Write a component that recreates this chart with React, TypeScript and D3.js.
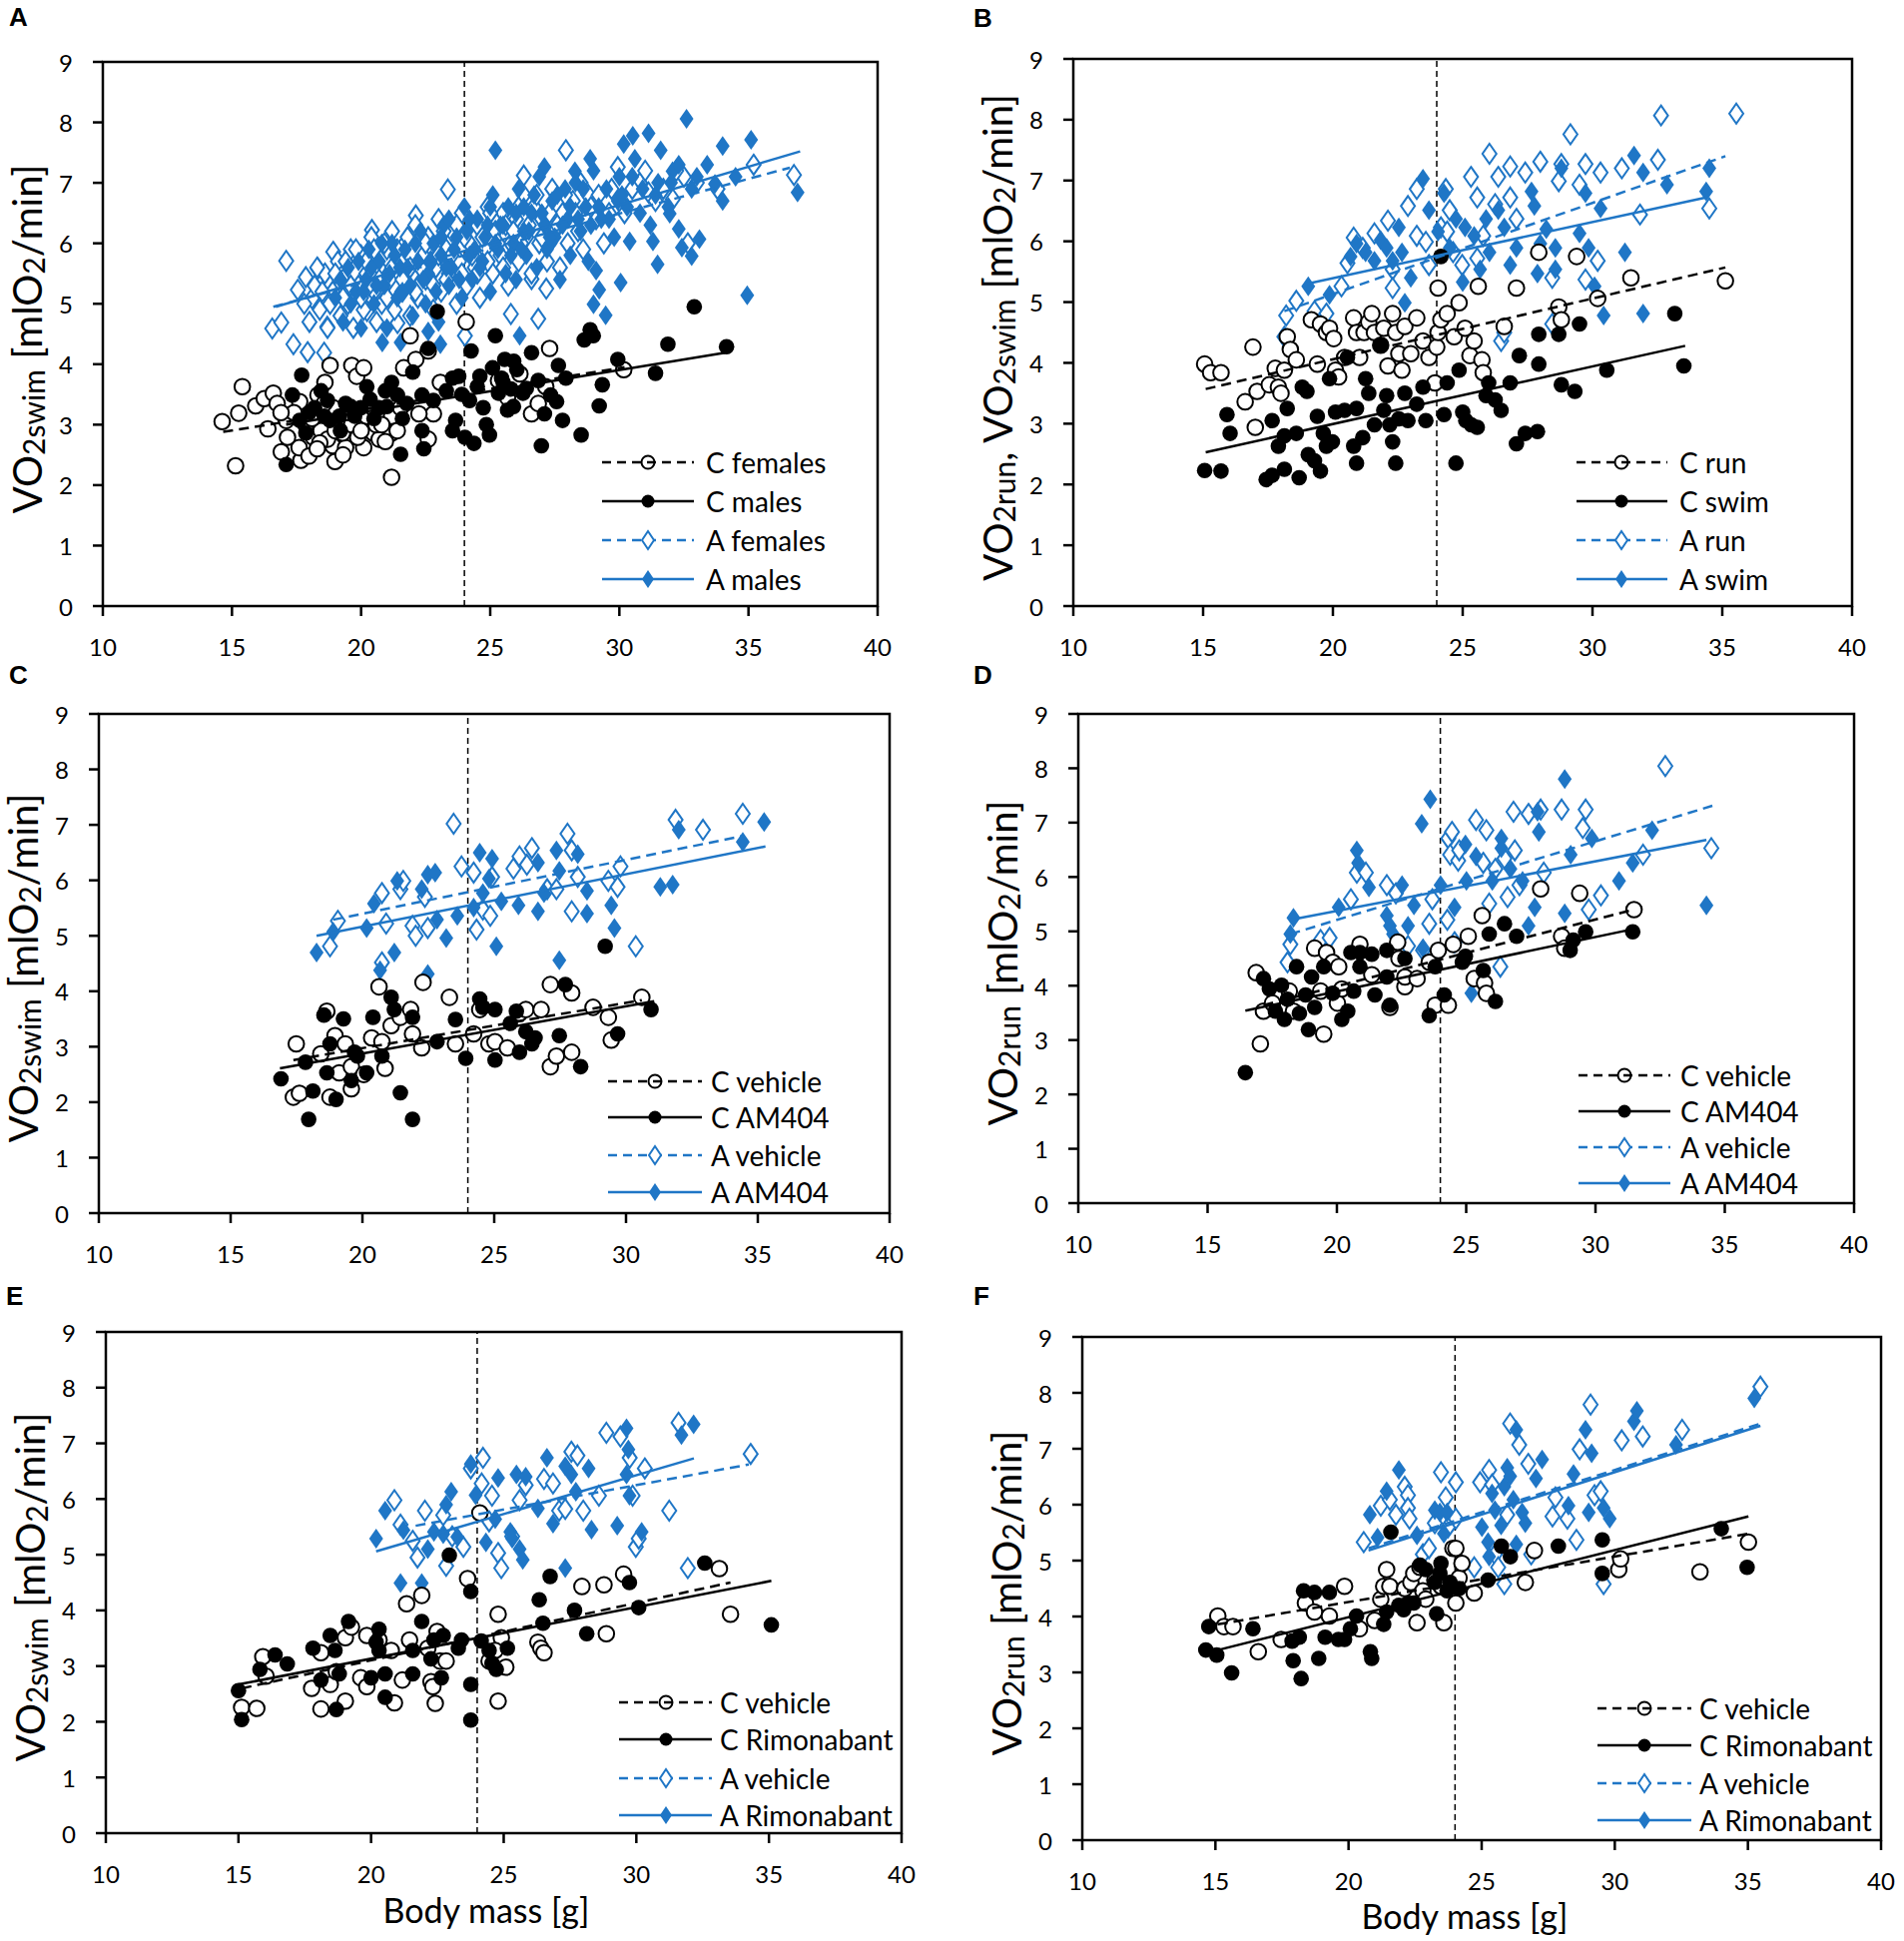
import React from "react";
import * as d3 from "d3";

type Pt = [number, number];

const BLUE = "#1f76c6";
const FONT = "Lato, 'Open Sans', sans-serif";

// ---------- panel A: swim, by sex ----------
const aCFemales: Pt[] = [
  [14.62, 3.05], [15.14, 2.32], [15.26, 3.19], [15.4, 3.63], [15.92, 3.31], [16.25, 3.43], [16.39, 2.93],
  [16.6, 3.52], [16.75, 3.35], [16.91, 2.55], [17.1, 3.07], [17.62, 3.38], [17.67, 2.41], [17.6, 2.62],
  [17.98, 2.48], [18.33, 3.49], [18.6, 3.7], [18.8, 3.98], [18.99, 2.39], [18.9, 2.65], [19.4, 2.62],
  [19.64, 3.98], [19.83, 3.8], [20.1, 3.94], [20.1, 2.62], [20.47, 2.86], [20.7, 2.76], [21.18, 2.13],
  [21.18, 2.86], [21.65, 3.94], [21.9, 4.47], [22.12, 4.08], [22.6, 4.22], [22.8, 3.18], [23.07, 3.7],
  [24.07, 4.7], [26.15, 3.84], [26.6, 3.18], [27.3, 4.26], [30.17, 3.91], [17.86, 3.0], [18.15, 2.79],
  [18.45, 2.9], [18.7, 2.76], [19.16, 3.07], [19.28, 2.86], [19.64, 3.0], [19.87, 2.79], [20.22, 3.14],
  [20.58, 3.0], [20.94, 2.72], [18.92, 3.28], [18.57, 3.35], [17.15, 2.79], [21.18, 3.14], [21.53, 3.28],
  [22.24, 3.18], [22.6, 2.76], [25.67, 3.45], [26.86, 3.35], [25.32, 3.73], [27.15, 3.63],
  [18.1, 3.1], [18.4, 2.7], [19.0, 2.9], [19.5, 3.2], [20.0, 2.9], [20.4, 3.3], [20.8, 3.0], [21.4, 2.9],
  [17.4, 3.2], [16.9, 3.2], [19.3, 2.5], [18.3, 2.6],
];
const aCMales: Pt[] = [
  [17.1, 2.34], [17.7, 3.82], [17.34, 3.49], [17.62, 3.07], [17.86, 2.86], [18.2, 3.28], [18.45, 3.56],
  [18.57, 3.14], [18.8, 3.07], [19.16, 3.14], [19.4, 3.35], [19.75, 3.14], [19.99, 3.28], [20.22, 3.63],
  [20.35, 3.42], [20.7, 3.28], [20.94, 3.56], [21.18, 3.7], [21.41, 3.49], [21.53, 2.51], [21.77, 3.35],
  [22.0, 3.87], [22.36, 2.9], [22.36, 3.49], [22.43, 2.6], [22.95, 4.87], [22.6, 4.26], [23.3, 3.56],
  [23.54, 2.9], [23.54, 3.77], [23.66, 3.07], [23.78, 3.8], [24.02, 2.79], [24.26, 4.22], [24.37, 2.69],
  [24.5, 3.63], [24.73, 3.28], [24.85, 3.0], [24.97, 2.83], [25.09, 3.94], [25.2, 4.47], [25.32, 3.52],
  [25.44, 3.77], [25.56, 4.08], [25.67, 3.24], [25.8, 3.59], [25.91, 4.05], [26.03, 3.91], [26.27, 3.52],
  [26.6, 4.19], [26.86, 3.73], [26.98, 2.65], [27.1, 3.18], [27.34, 3.49], [27.57, 3.38], [27.64, 3.98],
  [27.8, 3.07], [27.93, 3.77], [28.52, 2.83], [28.64, 4.4], [28.87, 4.57], [28.99, 4.47], [29.22, 3.31],
  [29.34, 3.66], [29.94, 4.08], [31.4, 3.85], [31.88, 4.33], [32.9, 4.95], [34.15, 4.29],
  [18.0, 3.2], [18.7, 3.4], [19.2, 2.9], [19.6, 3.3], [20.5, 3.1], [21.0, 3.3], [21.6, 3.1], [22.8, 3.4],
  [23.9, 3.5], [24.6, 3.8], [25.5, 3.7], [26.4, 3.6], [24.2, 3.4], [25.9, 3.3],
];
const aAFemales: Pt[] = [
  [17.1, 5.71], [16.56, 4.59], [16.91, 4.69], [17.38, 4.33], [17.55, 5.23], [17.86, 5.44], [17.93, 4.2],
  [18.1, 5.09], [18.33, 5.58], [18.69, 4.62], [18.92, 5.86], [18.57, 4.19], [20.42, 6.22], [20.23, 4.88],
  [21.41, 4.68], [22.12, 6.46], [23.36, 6.89], [24.02, 4.47], [25.8, 4.83], [26.3, 7.12], [26.6, 5.41],
  [26.86, 4.75], [27.17, 5.25], [27.93, 7.54], [29.94, 7.26], [32.07, 6.73], [32.65, 6.0], [36.76, 7.13],
  [29.22, 6.56], [31.13, 6.84],
  [17.8, 5.0], [18.0, 4.7], [18.2, 5.3], [18.4, 4.9], [18.6, 5.5], [18.7, 4.6], [18.9, 5.2], [19.1, 5.7],
  [19.2, 4.8], [19.3, 5.4], [19.5, 5.0], [19.6, 5.9], [19.7, 4.6], [19.9, 5.3], [20.0, 5.8], [20.1, 4.9],
  [20.2, 5.5], [20.4, 6.1], [20.5, 5.2], [20.6, 4.7], [20.7, 5.6], [20.8, 5.0], [21.0, 5.9], [21.1, 5.4],
  [21.2, 6.2], [21.3, 4.9], [21.5, 5.7], [21.6, 5.2], [21.7, 6.0], [21.9, 4.8], [22.0, 5.5], [22.1, 6.3],
  [22.2, 5.1], [22.4, 5.8], [22.5, 5.4], [22.6, 6.1], [22.8, 4.9], [22.9, 5.6], [23.0, 6.4], [23.1, 5.2],
  [23.3, 5.9], [23.4, 5.5], [23.5, 6.2], [23.7, 5.0], [23.8, 5.7], [23.9, 6.5], [24.1, 5.3], [24.2, 6.0],
  [24.4, 5.6], [24.5, 6.3], [24.6, 5.1], [24.8, 5.9], [24.9, 6.6], [25.1, 5.5], [25.2, 6.2], [25.4, 5.8],
  [25.5, 6.5], [25.7, 5.3], [25.8, 6.0], [26.0, 6.4], [26.1, 5.7], [26.3, 6.8], [26.4, 6.1], [26.6, 5.5],
  [26.7, 6.6], [26.9, 6.0], [27.0, 6.4], [27.2, 5.7], [27.4, 6.9], [27.5, 6.2], [27.7, 5.6], [27.8, 6.5],
  [28.0, 6.0], [28.2, 6.7], [28.4, 6.2], [28.6, 5.9], [28.8, 6.8], [29.1, 6.4], [29.4, 6.0], [29.7, 6.9],
  [30.2, 6.5], [30.8, 7.0], [31.4, 6.7], [32.5, 7.1], [33.8, 6.9], [35.2, 7.3],
  [18.3, 5.6], [18.5, 5.2], [18.8, 5.0], [19.0, 5.5], [19.3, 5.1], [19.4, 5.7], [19.6, 5.3], [19.8, 5.9],
  [20.0, 5.1], [20.2, 5.7], [20.3, 5.3], [20.5, 5.9], [20.7, 5.4], [20.9, 6.0], [21.0, 5.1], [21.2, 5.6],
  [21.4, 5.9], [21.6, 5.4], [21.8, 6.1], [21.9, 5.6], [22.1, 5.2], [22.3, 5.6], [22.5, 6.0], [22.7, 5.7],
  [22.8, 5.3], [23.0, 5.8], [23.2, 6.2], [23.3, 5.4], [23.5, 5.8], [23.7, 6.3], [23.9, 5.5], [24.0, 6.1],
  [24.3, 5.8], [24.5, 5.5], [24.7, 6.1], [24.9, 5.7], [25.0, 6.5], [25.3, 6.0], [25.5, 5.6], [25.6, 6.3],
  [25.9, 6.2], [26.1, 6.6], [26.2, 6.0], [26.5, 6.3], [26.8, 6.8], [27.0, 6.1], [27.3, 6.5], [27.6, 6.3],
  [27.9, 6.8], [28.3, 6.5], [28.5, 7.0], [28.9, 6.6], [29.2, 6.8], [29.6, 6.5], [30.0, 6.7], [30.5, 6.9],
  [31.0, 7.2], [31.7, 6.9], [32.2, 7.2], [33.0, 7.0],
];
const aAMales: Pt[] = [
  [25.2, 7.54], [32.6, 8.06], [35.1, 7.71], [34.95, 5.14], [36.9, 6.84], [31.13, 7.82], [30.52, 7.78],
  [30.17, 7.64], [31.6, 7.54], [34.0, 7.61], [33.7, 6.98], [32.3, 6.24], [32.42, 5.93], [33.1, 6.07],
  [31.48, 5.65], [31.3, 6.03], [30.4, 6.03], [30.05, 5.35], [29.47, 4.81], [29.0, 4.99], [29.22, 5.23],
  [28.87, 7.4], [28.28, 7.19], [27.1, 7.26], [29.1, 5.55], [32.06, 7.19], [32.8, 5.79], [31.95, 6.49],
  [20.82, 4.36], [21.53, 4.36], [22.6, 4.54], [23.07, 4.33], [26.14, 4.47], [27.34, 6.0], [29.94, 6.7],
  [19.0, 5.1], [19.3, 4.7], [19.5, 5.6], [19.8, 5.2], [20.0, 4.6], [20.2, 5.4], [20.3, 5.9], [20.5, 5.0],
  [20.7, 5.7], [20.9, 5.3], [21.0, 4.6], [21.2, 6.0], [21.4, 5.1], [21.5, 5.6], [21.7, 5.9], [21.9, 5.3],
  [22.0, 4.8], [22.2, 5.7], [22.3, 6.2], [22.5, 5.0], [22.6, 5.5], [22.8, 6.0], [23.0, 4.7], [23.1, 5.8],
  [23.2, 6.3], [23.4, 5.3], [23.5, 5.6], [23.7, 6.1], [23.9, 5.1], [24.0, 6.6], [24.2, 5.8], [24.3, 5.4],
  [24.5, 6.4], [24.7, 5.7], [24.8, 6.1], [25.0, 5.2], [25.1, 6.8], [25.3, 5.9], [25.4, 6.3], [25.6, 5.5],
  [25.7, 6.6], [25.9, 6.0], [26.0, 5.4], [26.1, 6.9], [26.3, 6.2], [26.4, 5.8], [26.6, 6.5], [26.8, 5.6],
  [26.9, 7.1], [27.1, 6.3], [27.2, 5.9], [27.4, 6.7], [27.5, 6.1], [27.7, 5.4], [27.9, 6.9], [28.0, 6.4],
  [28.1, 5.8], [28.3, 7.0], [28.5, 6.2], [28.7, 6.6], [28.8, 5.7], [29.0, 7.2], [29.3, 6.4], [29.5, 6.9],
  [29.8, 6.1], [30.0, 7.1], [30.3, 6.6], [30.6, 7.4], [30.9, 6.9], [31.2, 6.3], [31.5, 7.0], [31.9, 6.6],
  [32.3, 7.3], [32.8, 6.9], [33.4, 7.3], [34.0, 6.7], [34.5, 7.1],
  [19.2, 5.4], [19.6, 5.0], [19.9, 5.7], [20.1, 5.2], [20.4, 5.6], [20.6, 5.3], [20.8, 6.0], [21.1, 5.5],
  [21.3, 5.8], [21.6, 5.2], [21.8, 5.6], [22.1, 6.0], [22.4, 5.4], [22.7, 5.7], [22.9, 5.2], [23.1, 6.1],
  [23.3, 5.6], [23.6, 5.9], [23.8, 5.4], [24.1, 6.2], [24.4, 5.9], [24.6, 5.6], [24.9, 6.3], [25.2, 6.0],
  [25.5, 6.3], [25.8, 5.8], [26.0, 6.5], [26.2, 5.9], [26.5, 6.2], [26.7, 6.8], [27.0, 6.5], [27.3, 6.1],
  [27.6, 6.8], [27.8, 6.3], [28.1, 6.6], [28.4, 6.4], [28.6, 6.9], [28.9, 6.3], [29.2, 6.6], [29.6, 6.4],
  [30.1, 6.8], [30.5, 7.1], [30.8, 6.5], [31.4, 6.8], [32.0, 7.0], [33.0, 7.1], [26.3, 6.6], [25.0, 6.6],
  [24.2, 6.4], [23.4, 6.4],
];
const aFits: Pt[][] = [
  [[14.66, 2.88], [30.2, 3.95]],
  [[17.1, 3.0], [34.1, 4.19]],
  [[16.6, 4.95], [36.6, 7.25]],
  [[16.7, 4.95], [37.0, 7.52]],
];

// ---------- panel B: run vs swim ----------
const bCRun: Pt[] = [
  [15.06, 3.98], [15.29, 3.84], [15.69, 3.84], [16.92, 4.26], [16.62, 3.36], [17.01, 2.94], [17.08, 3.53],
  [17.55, 3.64], [17.78, 3.91], [17.9, 3.6], [18.13, 3.88], [18.24, 4.43], [18.36, 4.22], [18.59, 4.05],
  [18.0, 3.5], [19.17, 4.71], [19.4, 3.98], [19.52, 4.64], [19.75, 4.5], [19.87, 4.57], [20.03, 4.4],
  [20.1, 3.88], [20.22, 3.77], [20.45, 4.09], [20.8, 4.74], [20.91, 4.5], [21.03, 4.09], [21.2, 4.5],
  [21.38, 4.67], [21.5, 4.81], [21.6, 4.5], [21.84, 4.29], [21.96, 4.57], [22.12, 3.95], [22.3, 4.81],
  [22.42, 4.5], [22.54, 4.15], [22.66, 3.88], [22.77, 4.6], [23.0, 4.15], [23.23, 4.74], [23.47, 4.36],
  [23.7, 4.09], [23.93, 3.67], [24.0, 4.26], [24.05, 4.5], [24.05, 5.23], [24.16, 4.71], [24.4, 4.81],
  [24.67, 4.43], [24.86, 4.99], [25.09, 4.57], [25.28, 4.12], [25.44, 4.36], [25.6, 5.26], [25.74, 4.05],
  [25.79, 3.84], [26.6, 4.6], [27.07, 5.23], [27.93, 5.82], [28.7, 4.92], [28.8, 4.71], [29.39, 5.75],
  [30.2, 5.06], [31.48, 5.4], [35.12, 5.35],
];
const bCSwim: Pt[] = [
  [15.06, 2.23], [15.69, 2.22], [15.92, 3.15], [16.04, 2.84], [17.43, 2.08], [17.66, 2.15], [17.66, 3.05],
  [17.9, 2.63], [18.13, 2.25], [18.13, 2.8], [18.24, 3.25], [18.59, 2.84], [18.7, 2.11], [18.82, 3.6],
  [19.0, 3.53], [19.05, 2.49], [19.29, 2.39], [19.4, 3.12], [19.52, 2.22], [19.63, 2.84], [19.75, 2.63],
  [19.87, 3.74], [19.98, 2.7], [20.1, 3.19], [20.45, 3.22], [20.56, 4.09], [20.8, 2.63], [20.91, 2.35],
  [20.91, 3.25], [21.15, 2.77], [21.26, 3.74], [21.38, 3.5], [21.6, 2.98], [21.84, 4.29], [21.96, 3.22],
  [22.07, 3.46], [22.19, 2.98], [22.3, 2.7], [22.42, 2.35], [22.54, 3.08], [22.77, 3.5], [22.89, 3.05],
  [23.23, 3.32], [23.47, 3.6], [23.58, 3.05], [24.16, 5.75], [24.28, 3.15], [24.4, 3.67], [24.74, 2.35],
  [24.86, 3.88], [25.0, 3.19], [25.12, 3.05], [25.33, 2.98], [25.56, 2.94], [25.9, 3.46], [26.0, 3.67],
  [26.25, 3.39], [26.48, 3.22], [26.83, 3.67], [27.07, 2.67], [27.18, 4.12], [27.41, 2.84], [27.88, 2.87],
  [27.93, 3.98], [27.93, 4.47], [28.7, 4.47], [28.8, 3.64], [29.32, 3.53], [29.5, 4.64], [30.55, 3.88],
  [33.17, 4.81], [33.52, 3.95],
];
const bARun: Pt[] = [
  [18.2, 4.78], [18.13, 4.43], [18.59, 5.02], [19.29, 4.85], [19.75, 4.81], [20.33, 5.26], [20.56, 5.64],
  [20.8, 6.06], [21.15, 5.89], [21.6, 6.13], [22.12, 6.34], [22.3, 5.54], [22.89, 6.58], [23.23, 6.09],
  [23.58, 5.99], [23.7, 5.61], [24.16, 6.23], [24.35, 6.86], [24.5, 6.51], [24.63, 5.82], [24.98, 5.61],
  [25.32, 7.06], [25.56, 6.72], [25.79, 6.09], [26.03, 7.44], [26.37, 7.06], [26.48, 4.36], [26.6, 4.5],
  [26.83, 6.72], [26.83, 7.23], [27.07, 6.37], [27.41, 7.13], [27.99, 7.31], [28.45, 5.4], [28.45, 4.64],
  [28.7, 6.99], [28.8, 7.27], [29.15, 7.76], [29.5, 6.93], [29.73, 7.27], [29.73, 5.37], [30.2, 5.68],
  [30.31, 7.13], [31.13, 7.2], [31.83, 6.44], [32.52, 7.34], [32.64, 8.07], [34.5, 6.54], [35.54, 8.1],
  [24.4, 6.16], [25.56, 5.72], [26.25, 6.61], [22.3, 5.23], [23.23, 6.86],
];
const bASwim: Pt[] = [
  [19.05, 5.26], [19.87, 5.12], [20.68, 5.75], [20.91, 5.96], [21.26, 5.82], [21.6, 5.68], [21.84, 6.02],
  [22.07, 5.89], [22.3, 5.68], [22.54, 6.23], [22.66, 5.82], [22.77, 4.99], [23.0, 5.4], [23.47, 7.03],
  [23.7, 6.51], [24.05, 6.16], [24.28, 6.79], [24.5, 5.89], [24.74, 6.37], [25.0, 5.33], [25.09, 6.23],
  [25.44, 6.09], [25.67, 5.54], [25.9, 6.37], [26.03, 5.82], [26.37, 6.51], [26.6, 6.23], [26.83, 5.61],
  [27.07, 5.89], [27.65, 6.82], [27.76, 6.58], [27.88, 5.47], [27.99, 5.96], [28.22, 6.2], [28.57, 5.89],
  [28.8, 7.2], [29.5, 6.13], [29.73, 6.79], [29.85, 5.89], [30.08, 5.26], [30.31, 6.54], [30.43, 4.78],
  [31.25, 5.82], [31.6, 7.41], [31.95, 7.13], [31.95, 4.81], [32.87, 6.93], [34.38, 6.82], [34.5, 7.2],
  [28.57, 5.54],
];
const bFits: Pt[][] = [
  [[15.1, 3.57], [35.12, 5.57]],
  [[15.1, 2.53], [33.57, 4.28]],
  [[18.13, 4.85], [35.12, 7.4]],
  [[19.0, 5.3], [34.38, 6.72]],
];

// ---------- panel C: swim, AM404 ----------
const cCVehicle: Pt[] = [
  [17.49, 3.05], [17.38, 2.09], [17.61, 2.16], [18.65, 3.64], [18.42, 2.87], [18.77, 2.09], [18.96, 3.2],
  [19.12, 2.53], [19.35, 3.05], [19.58, 2.24], [19.58, 2.64], [20.05, 2.5], [20.35, 3.16], [20.63, 4.08],
  [20.74, 3.09], [20.86, 2.61], [21.09, 3.38], [21.44, 3.53], [21.83, 3.67], [21.9, 3.23], [22.25, 2.98],
  [22.3, 4.16], [23.3, 3.89], [23.53, 3.05], [24.22, 3.23], [24.45, 3.67], [24.8, 3.05], [25.03, 3.09],
  [25.5, 2.98], [25.96, 3.6], [26.2, 3.67], [26.78, 3.67], [27.13, 2.64], [27.13, 4.12], [27.36, 2.83],
  [27.94, 2.9], [27.94, 3.97], [28.75, 3.71], [29.33, 3.53], [30.6, 3.89], [29.44, 3.12],
];
const cCAm404: Pt[] = [
  [16.91, 2.42], [17.96, 1.69], [17.84, 2.72], [18.12, 2.2], [18.54, 3.57], [18.65, 2.53], [18.77, 3.05],
  [19.0, 2.05], [19.28, 3.5], [19.58, 2.39], [19.7, 2.9], [19.81, 2.83], [20.16, 2.53], [20.4, 3.53],
  [20.74, 2.83], [21.09, 3.89], [21.21, 3.67], [21.44, 2.17], [21.9, 3.53], [21.9, 1.69], [22.83, 3.09],
  [23.53, 3.49], [23.92, 2.79], [24.45, 3.86], [24.57, 3.71], [25.03, 3.67], [25.03, 2.76], [25.61, 3.42],
  [25.84, 3.64], [25.96, 2.9], [26.2, 3.27], [26.43, 3.05], [26.55, 3.16], [27.47, 3.2], [27.7, 4.12],
  [28.28, 2.64], [29.21, 4.81], [29.68, 3.23], [30.95, 3.67],
];
const cAVehicle: Pt[] = [
  [18.77, 4.81], [19.07, 5.27], [20.74, 5.77], [20.74, 4.52], [20.9, 5.22], [21.44, 5.84], [21.9, 5.18],
  [22.02, 5.0], [22.37, 5.7], [22.48, 5.14], [23.46, 7.02], [23.76, 6.25], [24.22, 6.14], [24.33, 5.11],
  [24.57, 5.47], [24.85, 5.36], [24.92, 6.06], [25.73, 6.21], [25.96, 6.43], [26.24, 6.28], [26.43, 6.58],
  [27.01, 5.84], [27.36, 5.84], [27.78, 6.84], [27.94, 6.54], [27.94, 5.44], [28.17, 6.06], [29.33, 5.99],
  [29.68, 5.88], [29.79, 6.25], [30.37, 4.81], [31.88, 7.09], [32.92, 6.91], [34.43, 7.2], [21.55, 5.99],
];
const cAAm404: Pt[] = [
  [18.26, 4.7], [18.89, 5.07], [20.16, 5.14], [20.44, 5.58], [20.67, 4.38], [21.21, 4.7], [21.32, 5.99],
  [22.25, 5.84], [22.48, 4.31], [22.48, 6.1], [22.76, 6.14], [22.83, 5.29], [23.18, 4.96], [23.6, 5.36],
  [24.22, 5.51], [24.45, 6.5], [24.57, 5.77], [24.8, 6.03], [24.92, 6.39], [25.08, 4.81], [25.27, 5.62],
  [25.92, 5.55], [26.66, 6.32], [26.66, 5.44], [26.89, 5.77], [27.36, 6.54], [27.47, 6.17], [27.47, 4.56],
  [28.17, 6.47], [28.52, 5.81], [28.52, 5.4], [29.44, 5.55], [29.56, 5.14], [31.3, 5.88], [31.77, 5.92],
  [32.0, 6.91], [34.43, 6.69], [35.24, 7.05],
];
const cFits: Pt[][] = [
  [[17.38, 2.76], [30.6, 3.84]],
  [[16.87, 2.61], [31.07, 3.82]],
  [[18.89, 5.29], [34.43, 6.8]],
  [[18.26, 5.0], [35.29, 6.61]],
];

// ---------- panel D: run, AM404 ----------
const dCVehicle: Pt[] = [
  [16.88, 4.24], [17.04, 2.93], [17.16, 3.53], [17.51, 3.68], [18.16, 3.9], [18.32, 3.53], [19.14, 4.69],
  [19.37, 3.9], [19.49, 3.11], [19.6, 4.61], [19.84, 4.43], [20.02, 3.68], [20.07, 4.35], [20.19, 3.94],
  [20.89, 4.76], [21.35, 4.2], [22.05, 3.6], [22.35, 4.8], [22.4, 4.5], [22.63, 3.98], [22.63, 4.16],
  [23.1, 4.13], [23.57, 4.43], [23.8, 3.64], [23.92, 4.65], [24.31, 3.64], [24.5, 4.76], [25.08, 4.91],
  [25.31, 4.13], [25.62, 5.29], [25.71, 4.05], [25.78, 3.86], [27.88, 5.78], [28.69, 4.91], [28.81, 4.69],
  [29.39, 5.7], [31.49, 5.4],
];
const dCAm404: Pt[] = [
  [16.46, 2.4], [17.16, 4.13], [17.39, 3.94], [17.62, 3.53], [17.86, 4.01], [17.97, 3.38], [18.09, 3.75],
  [18.44, 4.35], [18.55, 3.49], [18.79, 3.83], [18.9, 3.19], [19.02, 4.16], [19.14, 3.6], [19.49, 4.35],
  [19.84, 3.86], [20.19, 3.38], [20.42, 3.53], [20.54, 4.61], [20.65, 3.9], [20.89, 4.35], [20.89, 4.61],
  [21.35, 4.58], [21.47, 3.83], [21.93, 4.65], [21.93, 4.16], [22.05, 3.64], [22.63, 4.5], [23.57, 3.45],
  [23.8, 4.35], [24.15, 3.83], [24.85, 4.43], [24.97, 4.54], [25.66, 4.28], [25.89, 4.95], [26.13, 3.71],
  [26.48, 5.14], [26.95, 4.91], [29.02, 4.65], [29.14, 4.84], [29.62, 4.99], [31.44, 4.99],
];
const dAVehicle: Pt[] = [
  [18.09, 4.43], [18.2, 4.76], [19.37, 4.84], [19.72, 4.88], [20.54, 5.59], [20.77, 6.08], [21.12, 6.08],
  [21.93, 5.85], [22.28, 5.7], [22.75, 4.73], [23.33, 4.65], [23.57, 5.14], [23.69, 5.59], [24.27, 5.21],
  [24.31, 6.71], [24.45, 6.83], [24.38, 6.41], [24.55, 4.8], [24.69, 6.3], [24.73, 6.49], [25.38, 7.05],
  [25.66, 6.26], [25.78, 6.86], [25.89, 5.51], [26.13, 6.15], [26.32, 4.35], [26.48, 6.34], [26.6, 5.63],
  [26.83, 7.2], [26.88, 6.49], [27.06, 5.85], [27.41, 7.16], [27.88, 7.24], [28.0, 6.08], [28.69, 7.24],
  [29.51, 6.9], [29.62, 7.24], [29.74, 5.4], [30.21, 5.66], [31.84, 6.41], [32.7, 8.04], [34.48, 6.53],
];
const dAAm404: Pt[] = [
  [18.2, 4.95], [18.32, 5.25], [20.07, 5.44], [20.77, 6.49], [20.82, 6.26], [21.24, 5.81], [21.93, 5.29],
  [22.05, 5.1], [22.17, 4.95], [22.52, 5.85], [22.75, 5.1], [22.98, 5.48], [23.28, 6.98], [23.61, 7.43],
  [23.33, 4.69], [24.01, 5.85], [24.55, 5.44], [24.97, 6.6], [25.01, 5.93], [25.2, 3.86], [25.38, 6.38],
  [26.01, 5.93], [26.36, 6.71], [26.36, 6.53], [26.71, 6.15], [27.18, 5.93], [27.41, 5.1], [27.65, 5.44],
  [27.76, 7.2], [27.81, 6.83], [28.81, 7.8], [28.81, 5.33], [29.04, 6.41], [29.86, 6.71], [30.91, 5.93],
  [31.44, 6.26], [32.19, 6.86], [34.29, 5.48],
];
const dFits: Pt[][] = [
  [[17.16, 3.64], [31.49, 5.4]],
  [[16.46, 3.54], [31.44, 5.04]],
  [[18.2, 4.95], [34.52, 7.31]],
  [[18.2, 5.21], [34.29, 6.68]],
];

// ---------- panel E: swim, Rimonabant ----------
const eCVehicle: Pt[] = [
  [15.12, 2.26], [15.69, 2.24], [15.92, 3.17], [16.04, 2.82], [17.76, 2.6], [18.11, 3.24], [18.11, 2.23],
  [18.46, 2.67], [18.69, 2.9], [19.03, 3.51], [19.03, 2.37], [19.26, 3.7], [19.61, 2.79], [19.84, 3.55],
  [19.84, 2.63], [20.3, 3.47], [20.76, 3.28], [20.88, 2.34], [21.18, 2.75], [21.34, 4.12], [21.45, 3.47],
  [21.91, 4.27], [22.14, 3.32], [22.26, 2.72], [22.33, 2.63], [22.42, 2.33], [22.49, 3.62], [22.6, 3.09],
  [22.83, 3.09], [23.64, 4.57], [24.1, 5.75], [24.79, 3.93], [24.79, 2.37], [24.91, 3.51], [24.45, 3.09],
  [24.68, 3.28], [25.08, 2.98], [26.29, 3.43], [26.4, 3.32], [26.52, 3.24], [27.95, 4.43], [28.78, 4.46],
  [28.87, 3.58], [29.52, 4.65], [33.13, 4.75], [33.55, 3.93],
];
const eCRimo: Pt[] = [
  [15.0, 2.56], [15.12, 2.04], [15.81, 2.94], [16.38, 3.2], [16.84, 3.04], [17.81, 3.32], [18.11, 2.75],
  [18.46, 3.55], [18.64, 3.28], [18.69, 2.22], [18.8, 2.86], [19.15, 3.8], [20.0, 2.79], [20.19, 3.43],
  [20.3, 3.66], [20.3, 3.28], [20.53, 2.44], [20.53, 2.86], [21.57, 3.28], [21.91, 3.8], [21.57, 2.86],
  [22.26, 3.13], [22.37, 3.47], [22.65, 2.79], [22.72, 3.55], [22.95, 4.99], [23.29, 3.32], [23.41, 3.47],
  [23.76, 4.34], [23.76, 2.67], [23.76, 2.03], [24.15, 3.45], [24.45, 3.28], [24.56, 3.05], [24.72, 2.94],
  [25.14, 3.32], [26.34, 4.19], [26.48, 3.77], [26.75, 4.61], [27.67, 4.0], [28.13, 3.58], [29.74, 4.5],
  [30.09, 4.05], [32.58, 4.85], [35.09, 3.74],
];
const eAVehicle: Pt[] = [
  [20.88, 5.98], [21.11, 5.54], [21.57, 5.25], [21.75, 4.95], [22.03, 5.79], [22.72, 5.71], [22.83, 4.8],
  [23.06, 5.33], [23.48, 5.14], [23.76, 6.55], [24.17, 6.28], [24.22, 6.74], [24.45, 5.6], [24.56, 6.06],
  [24.79, 5.03], [24.91, 4.76], [25.32, 5.33], [25.6, 5.98], [25.83, 6.25], [26.52, 6.36], [26.86, 6.28],
  [27.09, 5.79], [27.32, 5.82], [27.55, 6.85], [27.78, 6.78], [28.0, 5.79], [28.59, 6.06], [28.87, 7.19],
  [29.4, 7.12], [29.75, 6.74], [29.86, 6.06], [29.98, 5.14], [30.09, 5.29], [30.32, 6.55], [31.24, 5.79],
  [31.94, 4.76], [31.59, 7.37], [34.31, 6.81],
];
const eARimo: Pt[] = [
  [20.19, 5.29], [20.53, 5.79], [21.11, 4.49], [21.22, 5.44], [21.91, 4.49], [22.14, 5.1], [22.37, 5.41],
  [22.72, 5.37], [22.83, 5.9], [23.02, 6.13], [23.25, 5.32], [23.76, 6.63], [23.94, 6.07], [24.33, 5.22],
  [24.68, 5.64], [24.79, 6.38], [25.25, 5.41], [25.32, 5.29], [25.6, 5.1], [25.72, 4.91], [25.48, 6.44],
  [25.83, 6.4], [26.29, 5.83], [26.63, 6.74], [26.86, 5.56], [27.32, 4.76], [27.32, 6.59], [27.55, 6.44],
  [27.72, 6.13], [28.2, 6.55], [28.31, 5.45], [29.28, 5.52], [29.63, 7.27], [29.7, 6.89], [29.74, 6.06],
  [30.2, 5.41], [31.7, 7.15], [32.16, 7.34], [29.63, 6.44],
];
const eFits: Pt[][] = [
  [[15.12, 2.6], [33.55, 4.5]],
  [[15.0, 2.67], [35.09, 4.53]],
  [[21.68, 5.52], [34.24, 6.62]],
  [[20.19, 5.06], [32.17, 6.73]],
];

// ---------- panel F: run, Rimonabant ----------
const fCVehicle: Pt[] = [
  [15.09, 4.01], [15.32, 3.82], [15.66, 3.82], [16.61, 3.37], [17.47, 3.59], [18.38, 4.24], [18.72, 4.08],
  [19.28, 4.01], [19.85, 4.54], [20.41, 3.78], [20.98, 3.93], [21.21, 4.31], [21.32, 4.54], [21.43, 4.84],
  [21.55, 4.54], [22.11, 4.5], [22.34, 4.61], [22.45, 4.77], [22.57, 3.89], [22.68, 4.88], [22.79, 4.46],
  [22.9, 4.31], [23.24, 4.65], [23.47, 4.54], [23.58, 3.89], [23.92, 5.22], [24.03, 5.22], [24.03, 4.24],
  [24.15, 4.69], [24.26, 4.95], [24.72, 4.42], [26.64, 4.61], [26.98, 5.18], [30.15, 4.84], [30.22, 5.03],
  [33.2, 4.8], [35.02, 5.33],
];
const fCRimo: Pt[] = [
  [14.64, 3.4], [14.75, 3.82], [15.05, 3.31], [15.61, 2.99], [16.41, 3.78], [17.88, 3.56], [17.92, 3.21],
  [18.15, 3.63], [18.22, 2.89], [18.31, 4.46], [18.72, 4.43], [18.88, 3.25], [19.12, 3.63], [19.28, 4.43],
  [19.62, 3.59], [19.85, 3.59], [20.07, 3.78], [20.3, 4.01], [20.82, 3.37], [20.87, 3.25], [21.32, 3.86],
  [21.43, 4.08], [21.59, 5.51], [21.89, 4.2], [22.07, 4.12], [22.23, 4.24], [22.45, 4.24], [22.68, 4.92],
  [22.9, 4.84], [23.24, 4.61], [23.31, 4.05], [23.43, 4.77], [23.47, 4.95], [23.7, 4.46], [23.81, 4.61],
  [24.15, 4.5], [25.24, 4.65], [25.74, 5.26], [26.08, 5.07], [27.88, 5.26], [29.53, 4.77], [29.53, 5.37],
  [34.0, 5.57], [34.97, 4.88],
];
const fAVehicle: Pt[] = [
  [20.57, 5.33], [21.21, 5.98], [21.55, 6.09], [21.78, 5.82], [22.11, 6.32], [22.23, 6.17], [22.23, 5.94],
  [22.29, 5.75], [22.79, 5.11], [23.02, 5.22], [23.24, 5.67], [23.47, 6.58], [23.65, 6.13], [23.74, 5.6],
  [24.03, 6.4], [24.03, 5.75], [24.72, 4.88], [24.94, 6.4], [25.28, 6.62], [25.39, 6.36], [25.5, 5.11],
  [25.62, 4.88], [25.85, 4.58], [25.96, 5.82], [26.07, 7.45], [26.41, 7.07], [26.75, 6.73], [26.86, 5.11],
  [27.66, 5.79], [27.77, 6.13], [28.22, 5.75], [28.56, 5.37], [28.68, 6.99], [29.09, 7.79], [29.24, 6.17],
  [29.47, 6.24], [29.58, 4.58], [30.26, 7.15], [31.05, 7.22], [32.53, 7.34], [35.47, 8.11],
];
const fARimo: Pt[] = [
  [20.8, 5.82], [21.09, 5.41], [21.43, 6.24], [21.89, 6.62], [22.57, 5.45], [23.24, 5.9], [23.43, 5.86],
  [23.58, 5.48], [23.7, 5.86], [25.01, 5.6], [25.24, 5.33], [25.28, 5.07], [25.39, 6.2], [25.5, 5.9],
  [25.73, 5.63], [25.85, 6.32], [25.96, 6.66], [26.07, 6.51], [26.19, 6.09], [26.3, 7.34], [26.3, 5.29],
  [26.52, 5.86], [26.64, 5.67], [27.04, 6.47], [27.27, 6.81], [28.26, 5.98], [28.45, 6.55], [28.9, 7.34],
  [29.13, 6.92], [29.02, 5.86], [29.58, 5.94], [29.81, 5.75], [30.72, 7.49], [30.83, 7.68], [32.3, 7.07],
  [35.24, 7.9],
];
const fFits: Pt[][] = [
  [[15.09, 3.86], [35.02, 5.48]],
  [[15.09, 3.4], [35.02, 5.79]],
  [[20.75, 5.22], [35.47, 7.45]],
  [[20.75, 5.18], [35.47, 7.41]],
];

const xTicks = [10, 15, 20, 25, 30, 35, 40];
const yTicks = [0, 1, 2, 3, 4, 5, 6, 7, 8, 9];
const cutoff = 24;

type Kind = "oc" | "fc" | "od" | "fd";
const kinds: Kind[] = ["oc", "fc", "od", "fd"];
const dashed = [true, false, true, false];
const colors = ["#000", "#000", BLUE, BLUE];

// yTitle pieces: [text, isSubscript]
type Piece = [string, boolean];

interface PanelDef {
  id: string;
  box: [number, number, number, number]; // x at 10, x at 40, y at 0, y at 9
  labelPos: [number, number];
  yTitle: Piece[];
  names: string[];
  legend: { lx0: number; lx1: number; mx: number; tx: number; rows: number[] };
  series: Pt[][];
  fits: Pt[][];
  xTitle?: [number, number];
}

const swimTitle: Piece[] = [["VO", false], ["2swim", true], [" [mlO", false], ["2", true], ["/min]", false]];
const runTitle: Piece[] = [["VO", false], ["2run", true], [" [mlO", false], ["2", true], ["/min]", false]];

const panels: PanelDef[] = [
  {
    id: "A", box: [103, 879, 607, 62], labelPos: [9, 26], yTitle: swimTitle,
    names: ["C females", "C males", "A females", "A males"],
    legend: { lx0: 603, lx1: 695, mx: 649, tx: 707, rows: [463, 502, 541, 580] },
    series: [aCFemales, aCMales, aAFemales, aAMales], fits: aFits,
  },
  {
    id: "B", box: [1075, 1855, 607, 59], labelPos: [975, 27],
    yTitle: [["VO", false], ["2run", true], [", VO", false], ["2swim", true], [" [mlO", false], ["2", true], ["/min]", false]],
    names: ["C run", "C swim", "A run", "A swim"],
    legend: { lx0: 1579, lx1: 1670, mx: 1624, tx: 1682, rows: [463, 502, 541, 580] },
    series: [bCRun, bCSwim, bARun, bASwim], fits: bFits,
  },
  {
    id: "C", box: [99, 891, 1215, 715], labelPos: [9, 685], yTitle: swimTitle,
    names: ["C vehicle", "C AM404", "A vehicle", "A AM404"],
    legend: { lx0: 609, lx1: 703, mx: 656, tx: 712, rows: [1083, 1119, 1157, 1194] },
    series: [cCVehicle, cCAm404, cAVehicle, cAAm404], fits: cFits,
  },
  {
    id: "D", box: [1080, 1857, 1205, 715], labelPos: [975, 685], yTitle: runTitle,
    names: ["C vehicle", "C AM404", "A vehicle", "A AM404"],
    legend: { lx0: 1581, lx1: 1673, mx: 1627, tx: 1683, rows: [1077, 1113, 1149, 1185] },
    series: [dCVehicle, dCAm404, dAVehicle, dAAm404], fits: dFits,
  },
  {
    id: "E", box: [106, 903, 1836, 1334], labelPos: [6, 1307], yTitle: swimTitle,
    names: ["C vehicle", "C Rimonabant", "A vehicle", "A Rimonabant"],
    legend: { lx0: 620, lx1: 713, mx: 667, tx: 721, rows: [1705, 1742, 1781, 1818] },
    series: [eCVehicle, eCRimo, eAVehicle, eARimo], fits: eFits, xTitle: [487, 1926],
  },
  {
    id: "F", box: [1084, 1884, 1843, 1339], labelPos: [975, 1307], yTitle: runTitle,
    names: ["C vehicle", "C Rimonabant", "A vehicle", "A Rimonabant"],
    legend: { lx0: 1600, lx1: 1694, mx: 1647, tx: 1702, rows: [1711, 1748, 1786, 1823] },
    series: [fCVehicle, fCRimo, fAVehicle, fARimo], fits: fFits, xTitle: [1467, 1932],
  },
];

function Marker({ kind, x, y, legend = false }: { kind: Kind; x: number; y: number; legend?: boolean }) {
  if (kind === "oc" || kind === "fc") {
    const r = legend ? 6.5 : 7.8;
    return kind === "oc" ? (
      <circle cx={x} cy={y} r={r} fill={legend ? "none" : "#fff"} stroke="#000" strokeWidth={2} />
    ) : (
      <circle cx={x} cy={y} r={r} fill="#000" />
    );
  }
  const w = legend ? 6 : 7;
  const h = legend ? 9 : 10;
  const d = `M${x},${y - h}L${x + w},${y}L${x},${y + h}L${x - w},${y}Z`;
  return kind === "od" ? (
    <path d={d} fill="#fff" stroke={BLUE} strokeWidth={2} />
  ) : (
    <path d={d} fill={BLUE} />
  );
}

function Panel({ p }: { p: PanelDef }) {
  const [x10, x40, y0, y9] = p.box;
  const x = d3.scaleLinear().domain([10, 40]).range([x10, x40]);
  const y = d3.scaleLinear().domain([0, 9]).range([y0, y9]);
  const line = d3.line<Pt>().x((d) => x(d[0])).y((d) => y(d[1]));
  const drawOrder = [2, 3, 0, 1];
  const titleX = x10 - 61;
  const titleY = y(4.42);

  return (
    <g>
      <text x={p.labelPos[0]} y={p.labelPos[1]} fontFamily="'Liberation Sans', Arial, sans-serif"
        fontWeight="bold" fontSize={26}>{p.id}</text>

      {/* cut-off line */}
      <line x1={x(cutoff)} x2={x(cutoff)} y1={y(0)} y2={y(9)} stroke="#000" strokeWidth={1.5} strokeDasharray="6,4" />

      {drawOrder.map((si) => (
        <g key={si}>
          {p.series[si].map((d, i) => (
            <Marker key={i} kind={kinds[si]} x={x(d[0])} y={y(d[1])} />
          ))}
        </g>
      ))}

      {p.fits.map((f, i) => (
        <path key={i} d={line(f) ?? ""} fill="none" stroke={colors[i]} strokeWidth={2.5}
          strokeDasharray={dashed[i] ? "10,6" : undefined} />
      ))}

      {/* frame */}
      <rect x={x10} y={y9} width={x40 - x10} height={y0 - y9} fill="none" stroke="#000" strokeWidth={2.5} />
      {xTicks.map((t) => (
        <g key={t}>
          <line x1={x(t)} x2={x(t)} y1={y0} y2={y0 + 10} stroke="#000" strokeWidth={2.5} />
          <text x={x(t)} y={y0 + 50} textAnchor="middle" fontFamily={FONT} fontSize={24}>{t}</text>
        </g>
      ))}
      {yTicks.map((t) => (
        <g key={t}>
          <line x1={x10 - 10} x2={x10} y1={y(t)} y2={y(t)} stroke="#000" strokeWidth={2.5} />
          <text x={x10 - 30} y={y(t)} textAnchor="end" dominantBaseline="central" fontFamily={FONT} fontSize={24}>{t}</text>
        </g>
      ))}

      <text transform={`translate(${titleX},${titleY}) rotate(-90)`} textAnchor="middle"
        fontFamily={FONT} fontSize={40}>
        {p.yTitle.map(([s, sub], i) => (
          <tspan key={i} fontSize={sub ? 30 : 40} dy={sub ? 3 : i > 0 && p.yTitle[i - 1][1] ? -3 : 0}>{s}</tspan>
        ))}
      </text>

      {p.xTitle && (
        <text x={p.xTitle[0]} y={p.xTitle[1]} textAnchor="middle" fontFamily={FONT} fontSize={34}>Body mass [g]</text>
      )}

      {p.names.map((n, i) => {
        const ry = p.legend.rows[i];
        return (
          <g key={n}>
            <line x1={p.legend.lx0} x2={p.legend.lx1} y1={ry} y2={ry} stroke={colors[i]} strokeWidth={2.5}
              strokeDasharray={dashed[i] ? "9,6" : undefined} />
            <Marker kind={kinds[i]} x={p.legend.mx} y={ry} legend />
            <text x={p.legend.tx} y={ry} dominantBaseline="central" fontFamily={FONT} fontSize={28}>{n}</text>
          </g>
        );
      })}
    </g>
  );
}

export default function App() {
  return (
    <svg width={1907} height={1944} viewBox="0 0 1907 1944"
      style={{ position: "absolute", left: 0, top: 0, background: "#fff" }}>
      <rect width={1907} height={1944} fill="#fff" />
      {panels.map((p) => (
        <Panel key={p.id} p={p} />
      ))}
    </svg>
  );
}
